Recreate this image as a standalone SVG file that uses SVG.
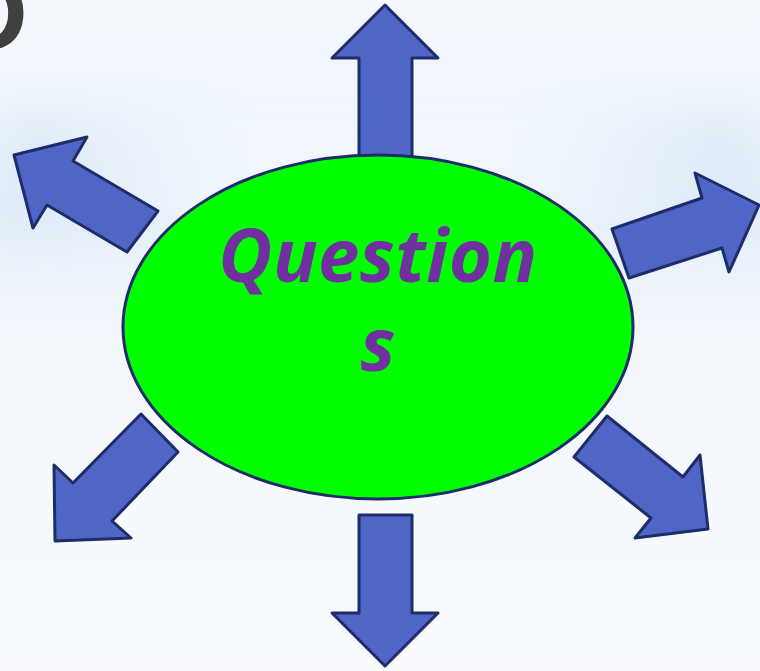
<svg xmlns="http://www.w3.org/2000/svg" width="760" height="671" viewBox="0 0 760 671">
  <defs>
    <linearGradient id="bg" x1="0" y1="0" x2="0" y2="1">
      <stop offset="0" stop-color="#F4F8FD"/>
      <stop offset="0.2" stop-color="#EEF5FB"/>
      <stop offset="0.33" stop-color="#E6EFF9"/>
      <stop offset="0.5" stop-color="#F3F7FC"/>
      <stop offset="1" stop-color="#F8FAFE"/>
    </linearGradient>
    <linearGradient id="streak" x1="0" y1="0" x2="1" y2="0">
      <stop offset="0" stop-color="#D8E6F6"/>
      <stop offset="0.3" stop-color="#F2F7FD"/>
      <stop offset="0.7" stop-color="#F2F7FD"/>
      <stop offset="1" stop-color="#D8E6F6"/>
    </linearGradient>
    <filter id="soft" x="-10%" y="-50%" width="120%" height="200%">
      <feGaussianBlur stdDeviation="25"/>
    </filter>
  </defs>
  <style>
    .arrow { fill: #4F66C6; stroke: #1E2C6A; stroke-width: 3; stroke-linejoin: round; }
    .ell { fill: #00FF00; stroke: #1E2C6A; stroke-width: 3; }
    .lbl { font-family: "Open Sans", "DejaVu Sans", sans-serif; font-style: italic; font-weight: bold; fill: #7030A0; text-anchor: middle; }
  </style>
  <rect width="760" height="671" fill="url(#bg)"/>
  <rect y="110" width="760" height="120" fill="url(#streak)" opacity="0.8" filter="url(#soft)"/>
  <text x="-48" y="50" font-family="Liberation Sans, Arial, sans-serif" font-weight="bold" font-size="105" fill="#404040">D</text>

  <g id="connectors">
    <g id="arrow-up"><polygon class="arrow" points="359,160 359,58 332,58 385,5 438,58 412,58 412,160"/></g>
    <g id="arrow-down"><polygon class="arrow" points="359,515 412,515 412,613 438,613 385,666 332,613 359,613"/></g>
    <g id="arrow-upleft"><polygon class="arrow" points="158,211 73,161 87,137 14,155 33,228 47,205 127,252"/></g>
    <g id="arrow-right"><polygon class="arrow" points="612,229 702,198 695,173 759,205 729,272 722,248 629,278"/></g>
    <g id="arrow-downleft"><polygon class="arrow" points="141,414 178,452 112,521 131,538 55,541 54,465 73,483"/></g>
    <g id="arrow-downright"><polygon class="arrow" points="607,416 683,477 700,455 708,529 635,538 651,518 574,457"/></g>
  </g>

  <g id="node-questions">
    <ellipse class="ell" cx="378" cy="327" rx="255" ry="172"/>
    <text class="lbl" font-size="74"><tspan x="378" y="282" letter-spacing="0.5">Question</tspan><tspan x="378" y="371">s</tspan></text>
  </g>
</svg>
